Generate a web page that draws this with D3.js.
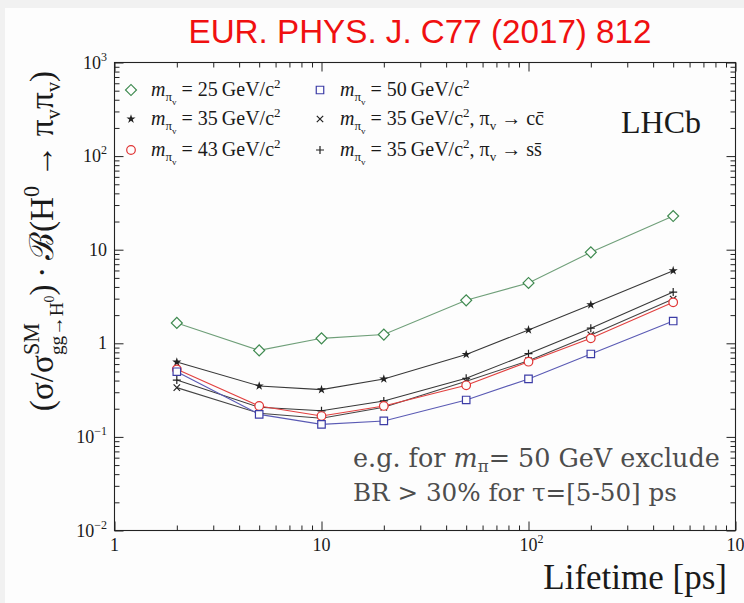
<!DOCTYPE html>
<html><head><meta charset="utf-8">
<script src="https://cdn.jsdelivr.net/npm/d3@7"></script>
<style>
body{margin:0;background:#f1f1f1}
svg{display:block}
text{font-family:"Liberation Serif","Times New Roman",serif;fill:#1a1a1a;white-space:pre}
</style>
</head><body>
<script>
// Lifetime points (ps) and 95% CL upper limits for each hidden-valley pion mass
const lifetimes = [2, 5, 10, 20, 50, 100, 200, 500];
const m25   = [1.65, 0.84, 1.13, 1.24, 2.88, 4.41, 9.38, 22.9];
const m35   = [0.63, 0.35, 0.32, 0.416, 0.76, 1.39, 2.58, 5.97];
const m43   = [0.527, 0.214, 0.167, 0.214, 0.356, 0.636, 1.13, 2.74];
const m50   = [0.497, 0.174, 0.136, 0.148, 0.248, 0.416, 0.769, 1.73];
const m35cc = [0.336, 0.179, 0.158, 0.207, 0.393, 0.652, 1.23, 2.97];
const m35ss = [0.405, 0.207, 0.19, 0.242, 0.423, 0.774, 1.45, 3.53];

const xTicks = [1, 10, 100, 1000];
const xTickLabels = [["1", ""], ["10", ""], ["10", "2"], ["10", "3"]];
const yTicks = [0.01, 0.1, 1, 10, 100, 1000];
const yTickLabels = [["10", "\u22122"], ["10", "\u22121"], ["1", ""], ["10", ""], ["10", "2"], ["10", "3"]];

const W = 744, H = 603;
const svg = d3.select("body").append("svg").attr("width", W).attr("height", H)
  .attr("xml:space", "preserve");
svg.append("rect").attr("x", 5).attr("y", 8).attr("width", W - 5).attr("height", H - 8).attr("fill", "#fdfdfd");

const x = d3.scaleLog().domain([1, 1000]).range([114.5, 735.5]);
const y = d3.scaleLog().domain([0.01, 1000]).range([530.5, 62.5]);

// Lay out a run of text pieces (sub/superscripts, italics) left to right.
// k scales every size and shift; "back" stacks a piece under the previous one.
function rich(parent, runs, px, py, anchor, fill, k) {
  k = k || 1;
  const g = parent.append("g");
  let cx = 0, prevStart = 0, prevEnd = 0;
  runs.forEach(r => {
    const start = r.back ? prevStart : cx;
    const el = g.append("text").attr("x", start).attr("y", -(r.shift || 0) * k)
      .attr("font-size", r.size * k).text(r.t);
    if (r.italic) el.attr("font-style", "italic");
    if (r.family) el.style("font-family", r.family);
    if (fill) el.style("fill", fill);
    const w = el.node().getComputedTextLength();
    if (r.back) { cx = Math.max(prevEnd, start + w); }
    else { prevStart = start; prevEnd = start + w; cx = start + w; }
  });
  const total = cx;
  const dx = anchor === "end" ? -total : anchor === "middle" ? -total / 2 : 0;
  g.attr("transform", `translate(${px + dx},${py})`);
  return {g, width: total};
}
// Same, with the size scaled so the whole run spans the given width.
function richFit(parent, runs, px, py, anchor, fill, width) {
  const probe = rich(parent, runs, 0, 0, "start", fill, 1);
  const k = width / probe.width;
  probe.g.remove();
  return rich(parent, runs, px, py, anchor, fill, k);
}

// Frame and ticks (inside, all four sides)
const plot = svg.append("g");
plot.append("rect").attr("x", x.range()[0]).attr("y", y.range()[1])
  .attr("width", x.range()[1] - x.range()[0]).attr("height", y.range()[0] - y.range()[1])
  .attr("fill", "none").attr("stroke", "#222").attr("stroke-width", 1.1);

function minors(dom) {
  const out = [];
  for (let d = dom[0]; d < dom[1]; d *= 10) for (let k = 2; k <= 9; k++) out.push(d * k);
  return out;
}
const xMinor = minors(x.domain()), yMinor = minors(y.domain());
function tickAxis(axisFn, scale, vals, len, tr) {
  const a = axisFn(scale).tickValues(vals).tickFormat("").tickSizeInner(len).tickSizeOuter(0);
  const g = plot.append("g").attr("transform", tr).call(a);
  g.select(".domain").remove();
  g.selectAll("line").attr("stroke", "#222").attr("stroke-width", 1);
}
const x0 = x.range()[0], x1 = x.range()[1], yb = y.range()[0], yt = y.range()[1];
tickAxis(d3.axisBottom, x, xTicks, -9, `translate(0,${yb})`);
tickAxis(d3.axisBottom, x, xMinor, -5, `translate(0,${yb})`);
tickAxis(d3.axisTop, x, xTicks, -9, `translate(0,${yt})`);
tickAxis(d3.axisTop, x, xMinor, -5, `translate(0,${yt})`);
tickAxis(d3.axisLeft, y, yTicks, -9, `translate(${x0},0)`);
tickAxis(d3.axisLeft, y, yMinor, -5, `translate(${x0},0)`);
tickAxis(d3.axisRight, y, yTicks, -9, `translate(${x1},0)`);
tickAxis(d3.axisRight, y, yMinor, -5, `translate(${x1},0)`);

// Tick labels
xTicks.forEach((v, i) => {
  const [b, e] = xTickLabels[i];
  const t = svg.append("text").attr("x", x(v)).attr("y", 551).attr("font-size", 18)
    .attr("text-anchor", "middle").text(b);
  if (e) {
    const w = t.node().getComputedTextLength();
    svg.append("text").attr("x", x(v) + w / 2).attr("y", 543).attr("font-size", 12).text(e);
  }
});
yTicks.forEach((v, i) => {
  const [b, e] = yTickLabels[i];
  const runs = [{t: b, size: 18}];
  if (e) runs.push({t: e, size: 12, shift: 8});
  rich(svg, runs, 107, y(v) + 6, "end");
});

// Series
const series = [
  {vals: m25,   line: "#6f9f79", stroke: "#3f8a50", sym: "diamond"},
  {vals: m35,   line: "#383838", stroke: "#222",    sym: "star"},
  {vals: m35ss, line: "#383838", stroke: "#222",    sym: "plus"},
  {vals: m35cc, line: "#444",    stroke: "#222",    sym: "cross"},
  {vals: m43,   line: "#e2403f", stroke: "#e03535", sym: "circle"},
  {vals: m50,   line: "#5a5ab4", stroke: "#3c3ca6", sym: "square"}
];

function drawMarker(g, sym, cx, cy, stroke) {
  if (sym === "diamond") {
    g.append("path").attr("d", d3.symbol(d3.symbolSquare, 60)())
      .attr("transform", `translate(${cx},${cy}) rotate(45)`)
      .attr("fill", "#fdfdfd").attr("stroke", stroke).attr("stroke-width", 1.2);
  } else if (sym === "star") {
    g.append("path").attr("d", d3.symbol(d3.symbolStar, 26)())
      .attr("transform", `translate(${cx},${cy})`).attr("fill", stroke);
  } else if (sym === "circle") {
    g.append("circle").attr("cx", cx).attr("cy", cy).attr("r", 4.3)
      .attr("fill", "#fdfdfd").attr("stroke", stroke).attr("stroke-width", 1.2);
  } else if (sym === "square") {
    g.append("path").attr("d", d3.symbol(d3.symbolSquare, 56)())
      .attr("transform", `translate(${cx},${cy})`)
      .attr("fill", "#fdfdfd").attr("stroke", stroke).attr("stroke-width", 1.2);
  } else if (sym === "cross") {
    const a = 3.2;
    g.append("path").attr("d", `M${-a},${-a}L${a},${a}M${-a},${a}L${a},${-a}`)
      .attr("transform", `translate(${cx},${cy})`)
      .attr("fill", "none").attr("stroke", stroke).attr("stroke-width", 1.2);
  } else if (sym === "plus") {
    const a = 4;
    g.append("path").attr("d", `M${-a},0L${a},0M0,${-a}L0,${a}`)
      .attr("transform", `translate(${cx},${cy})`)
      .attr("fill", "none").attr("stroke", stroke).attr("stroke-width", 1.2);
  }
}

const lineGen = d3.line().x(d => x(d[0])).y(d => y(d[1]));
const dataG = svg.append("g");
series.forEach(s => {
  const pts = lifetimes.map((t, i) => [t, s.vals[i]]);
  dataG.append("path").attr("d", lineGen(pts)).attr("fill", "none")
    .attr("stroke", s.line).attr("stroke-width", 1.1);
});
series.forEach(s => {
  lifetimes.forEach((t, i) => drawMarker(dataG, s.sym, x(t), y(s.vals[i]), s.stroke));
});

// Legend
function massRuns(mass, tail) {
  const r = [
    {t: "m", size: 20, italic: true},
    {t: "\u03c0", size: 13, shift: -5},
    {t: "v", size: 9, shift: -9},
    {t: " = " + mass + "\u2009GeV/c", size: 20},
    {t: "2", size: 13, shift: 8}
  ];
  return r.concat(tail || []);
}
const decayTail = q => [
  {t: ", \u03c0", size: 20},
  {t: "v", size: 13, shift: -5},
  {t: " \u2192 " + q, size: 20},
  {t: q + "\u0304", size: 20}
];
const legendItems = [
  {sym: "diamond", stroke: "#3f8a50", cx: 131, cy: 90,  runs: massRuns("25")},
  {sym: "star",    stroke: "#222",    cx: 131, cy: 119, runs: massRuns("35")},
  {sym: "circle",  stroke: "#e03535", cx: 131, cy: 150, runs: massRuns("43")},
  {sym: "square",  stroke: "#3c3ca6", cx: 320, cy: 90,  runs: massRuns("50")},
  {sym: "cross",   stroke: "#222",    cx: 320, cy: 119, runs: massRuns("35", decayTail("c"))},
  {sym: "plus",    stroke: "#222",    cx: 320, cy: 150, runs: massRuns("35", decayTail("s"))}
];
const legG = svg.append("g");
legendItems.forEach(it => {
  drawMarker(legG, it.sym, it.cx, it.cy, it.stroke);
  rich(legG, it.runs, it.cx + 20, it.cy + 6, "start");
});

// LHCb label
svg.append("text").attr("x", 661).attr("y", 133).attr("text-anchor", "middle")
  .attr("font-size", 32).text("LHCb");

// Annotation
const noteFill = "#4d4d4d";
const noteFont = "'DejaVu Serif',serif";
richFit(svg, [
  {t: "e.g. for ", size: 26, family: noteFont},
  {t: "m", size: 26, italic: true, family: noteFont},
  {t: "\u03c0", size: 17, shift: -5, family: noteFont},
  {t: "= 50 GeV exclude", size: 26, family: noteFont}
], 353, 467, "start", noteFill, 367);
richFit(svg, [
  {t: "BR > 30% for \u03c4=[5-50] ps", size: 26, family: noteFont}
], 353, 501, "start", noteFill, 324);

// Axis titles
svg.append("text").attr("x", 727).attr("y", 589).attr("text-anchor", "end")
  .attr("font-size", 35).text("Lifetime [ps]");

const yl = richFit(svg, [
  {t: "(\u03c3/\u03c3", size: 24},
  {t: "SM", size: 16, shift: 10},
  {t: "gg\u2192H", size: 14, shift: -7, back: true},
  {t: "0", size: 10, shift: -1},
  {t: ")\u2009\u00b7\u2009", size: 24},
  {t: "\u212c", size: 24},
  {t: "(H", size: 24},
  {t: "0", size: 16, shift: 10},
  {t: " \u2192 \u03c0", size: 24},
  {t: "v", size: 15, shift: -5},
  {t: "\u03c0", size: 24},
  {t: "v", size: 15, shift: -5},
  {t: ")", size: 24}
], 0, 0, "start", null, 340);
yl.g.attr("transform", `translate(53,${241 + yl.width / 2}) rotate(-90)`);

// Journal reference
svg.append("text").attr("x", 420).attr("y", 43).attr("text-anchor", "middle")
  .attr("font-size", 33).style("font-family", "'Liberation Sans',Arial,sans-serif")
  .style("fill", "#f01010").attr("textLength", 463).attr("lengthAdjust", "spacingAndGlyphs")
  .text("EUR. PHYS. J. C77 (2017) 812");
</script>
</body></html>
